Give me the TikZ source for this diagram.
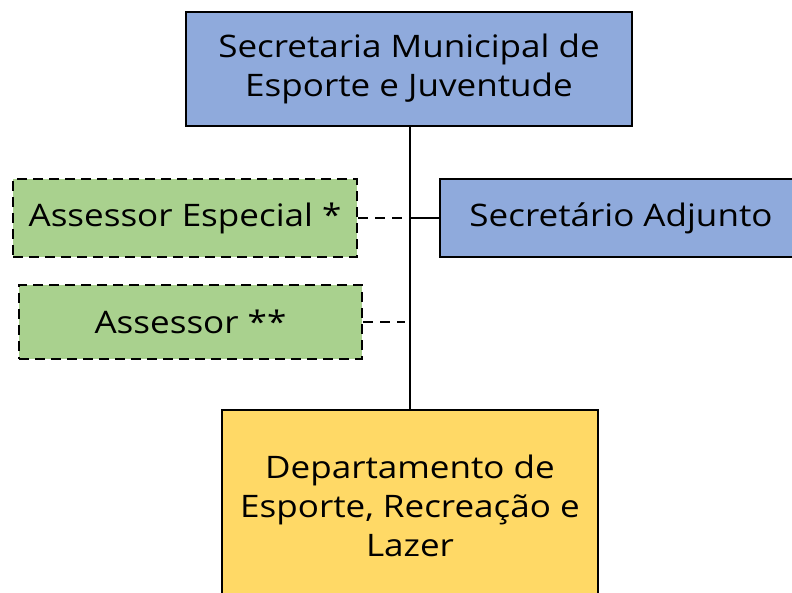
\documentclass[tikz,border=0pt]{standalone}
\usepackage{fontspec}
\setmainfont{Open Sans}[FakeStretch=1.13]
\definecolor{azul}{HTML}{8FAADC}
\definecolor{verde}{HTML}{A9D18E}
\definecolor{amarelo}{HTML}{FFD966}
\begin{document}
\begin{tikzpicture}[x = 1pt, y = -1pt, line width = 2.8pt,
		caixa/.style = {draw, fill=azul, align=center, inner sep=0pt, font=\fontsize{31}{39}\selectfont},
		assessoria/.style = {caixa, fill=verde, dash pattern=on 10pt off 6pt},
		ligacao/.style = {draw, line width=2.8pt},]
		
		\useasboundingbox (0,0) rectangle (792,593);
		
		\node[caixa, minimum width=446pt, minimum height=114pt] (SEC) at (409,69) {Secretaria Municipal de\\Esporte e Juventude};
		\node[caixa, minimum width=362pt, minimum height=78pt] (ADJ) at (621,218) {Secretário Adjunto};
		\node[assessoria, minimum width=344pt, minimum height=78pt] (ESP) at (185,218) {Assessor Especial *};
		\node[assessoria, minimum width=343pt, minimum height=74pt] (ASS) at (190.5,322) {Assessor **};
		\node[caixa, fill=amarelo, minimum width=376pt, minimum height=192pt] (DEP) at (410,506) {Departamento de\\Esporte, Recreação e\\Lazer};
		
		\coordinate (T1) at (410,218);
		\coordinate (T2) at (405,322);
		
		\draw[ligacao]	(SEC.south -| DEP.north) -- (DEP.north);
		\draw[ligacao]	(T1) -- (ADJ.west);
		\draw[ligacao, dash pattern=on 10pt off 7pt]	(ESP.east) -- (T1);
		\draw[ligacao, dash pattern=on 10pt off 7pt]	(ASS.east) -- (T2);
		
	\end{tikzpicture}
\end{document}
